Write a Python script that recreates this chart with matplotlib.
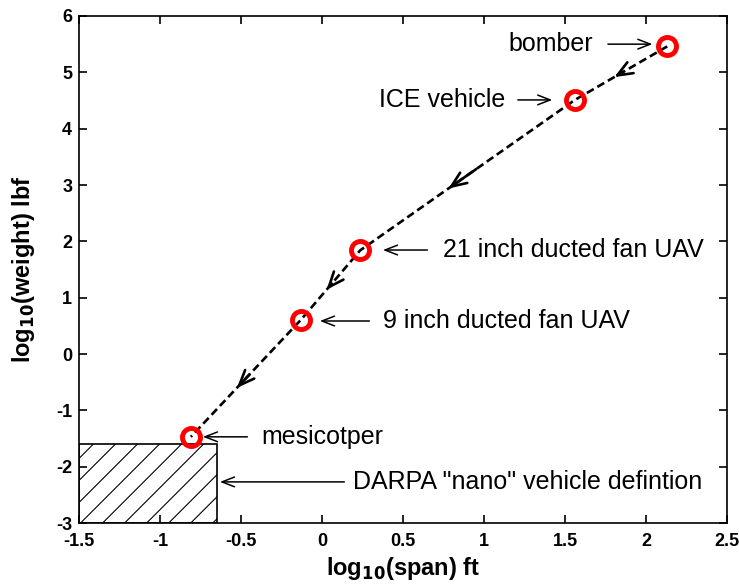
import matplotlib
import numpy as np

matplotlib.use("Agg")

from matplotlib import pyplot as plt
from matplotlib.patches import Rectangle

# log10 span (ft) and log10 weight (lbf), largest vehicle first
vehicles = ["bomber", "ICE vehicle", "21 inch ducted fan UAV", "9 inch ducted fan UAV", "mesicotper"]
log_span = [2.13, 1.56, 0.235, -0.13, -0.81]
log_weight = [5.46, 4.51, 1.84, 0.61, -1.47]

# DARPA "nano" corner of the plot
nano_span = -0.65
nano_weight = -1.6

plt.rcParams["font.family"] = ["Liberation Sans", "DejaVu Sans"]
plt.rcParams["mathtext.default"] = "bf"

fig = plt.figure(figsize=(7.39, 5.88), dpi=100)
ax = fig.add_axes([0.107, 0.1105, 0.877, 0.8623])

xmin, xmax, ymin, ymax = -1.5, 2.5, -3.0, 6.0
ax.set_xlim(xmin, xmax)
ax.set_ylim(ymin, ymax)

box = Rectangle(
    (xmin, ymin),
    nano_span - xmin,
    nano_weight - ymin,
    facecolor="none",
    edgecolor="black",
    linewidth=1.2,
    zorder=2,
)
ax.add_patch(box)

# 45 degree hatching (in screen space) clipped to the nano box
bbox = ax.get_position()
fig_w, fig_h = fig.get_size_inches()
px_per_x = bbox.width * fig_w / (xmax - xmin)
px_per_y = bbox.height * fig_h / (ymax - ymin)
slope = px_per_x / px_per_y
for x0 in np.arange(xmin - 1.0, nano_span + 0.2, 0.136) + 0.057:
    hx = np.array([x0, x0 + 2.0])
    hy = ymin + slope * (hx - x0)
    line, = ax.plot(hx, hy, color="black", linewidth=0.8, zorder=1)
    line.set_clip_path(box)

ax.plot(log_span, log_weight, linestyle=(0, (3, 1.6)), color="black", linewidth=1.9, zorder=3)

# direction arrows along each segment
for i in range(len(log_span) - 1):
    x0, y0 = log_span[i], log_weight[i]
    x1, y1 = log_span[i + 1], log_weight[i + 1]
    tip = (x0 + 0.6 * (x1 - x0), y0 + 0.6 * (y1 - y0))
    tail = (x0 + 0.45 * (x1 - x0), y0 + 0.45 * (y1 - y0))
    ax.annotate(
        "",
        xy=tip,
        xytext=tail,
        arrowprops=dict(arrowstyle="->,head_length=1.1,head_width=0.45", color="black", lw=1.9),
        zorder=4,
    )

ax.plot(
    log_span,
    log_weight,
    linestyle="none",
    marker="o",
    markersize=13,
    markerfacecolor="none",
    markeredgecolor="red",
    markeredgewidth=3.5,
    zorder=5,
)

label_style = dict(fontsize=18, va="center")
arrow_style = dict(arrowstyle="->,head_length=0.9,head_width=0.35", color="black", lw=1.1)

# (text x, text y, tail x, tip x, alignment)
label_layout = [
    (1.673, 5.50, 1.747, 2.056, "right"),
    (1.130, 4.51, 1.191, 1.438, "right"),
    (0.747, 1.846, 0.667, 0.358, "left"),
    (0.377, 0.586, 0.309, -0.031, "left"),
    (-0.377, -1.47, -0.444, -0.753, "left"),
]
for name, (tx, ty, tail_x, tip_x, ha) in zip(vehicles, label_layout):
    ax.text(tx, ty, name, ha=ha, **label_style)
    ax.annotate("", xy=(tip_x, ty), xytext=(tail_x, ty), arrowprops=arrow_style)

ax.text(0.191, -2.27, 'DARPA "nano" vehicle defintion', ha="left", **label_style)
ax.annotate("", xy=(-0.648, -2.27), xytext=(0.154, -2.27), arrowprops=arrow_style)

ax.set_xticks(np.arange(-1.5, 2.51, 0.5))
ax.set_yticks(np.arange(-3, 7, 1))
ax.set_xticklabels(["-1.5", "-1", "-0.5", "0", "0.5", "1", "1.5", "2", "2.5"])
ax.set_yticklabels([str(v) for v in range(-3, 7)])
ax.tick_params(direction="in", length=6, width=1.2, top=True, right=True, labelsize=13)
ax.tick_params(axis="x", pad=7)
ax.tick_params(axis="y", pad=5)
for label in ax.get_xticklabels() + ax.get_yticklabels():
    label.set_fontweight("bold")
for spine in ax.spines.values():
    spine.set_linewidth(1.2)

ax.set_xlabel(r"log$_{10}$(span) ft", fontsize=17, fontweight="bold", labelpad=4)
ax.set_ylabel(r"log$_{10}$(weight) lbf", fontsize=17, fontweight="bold", labelpad=14)

fig.savefig("out.png", dpi=100)
